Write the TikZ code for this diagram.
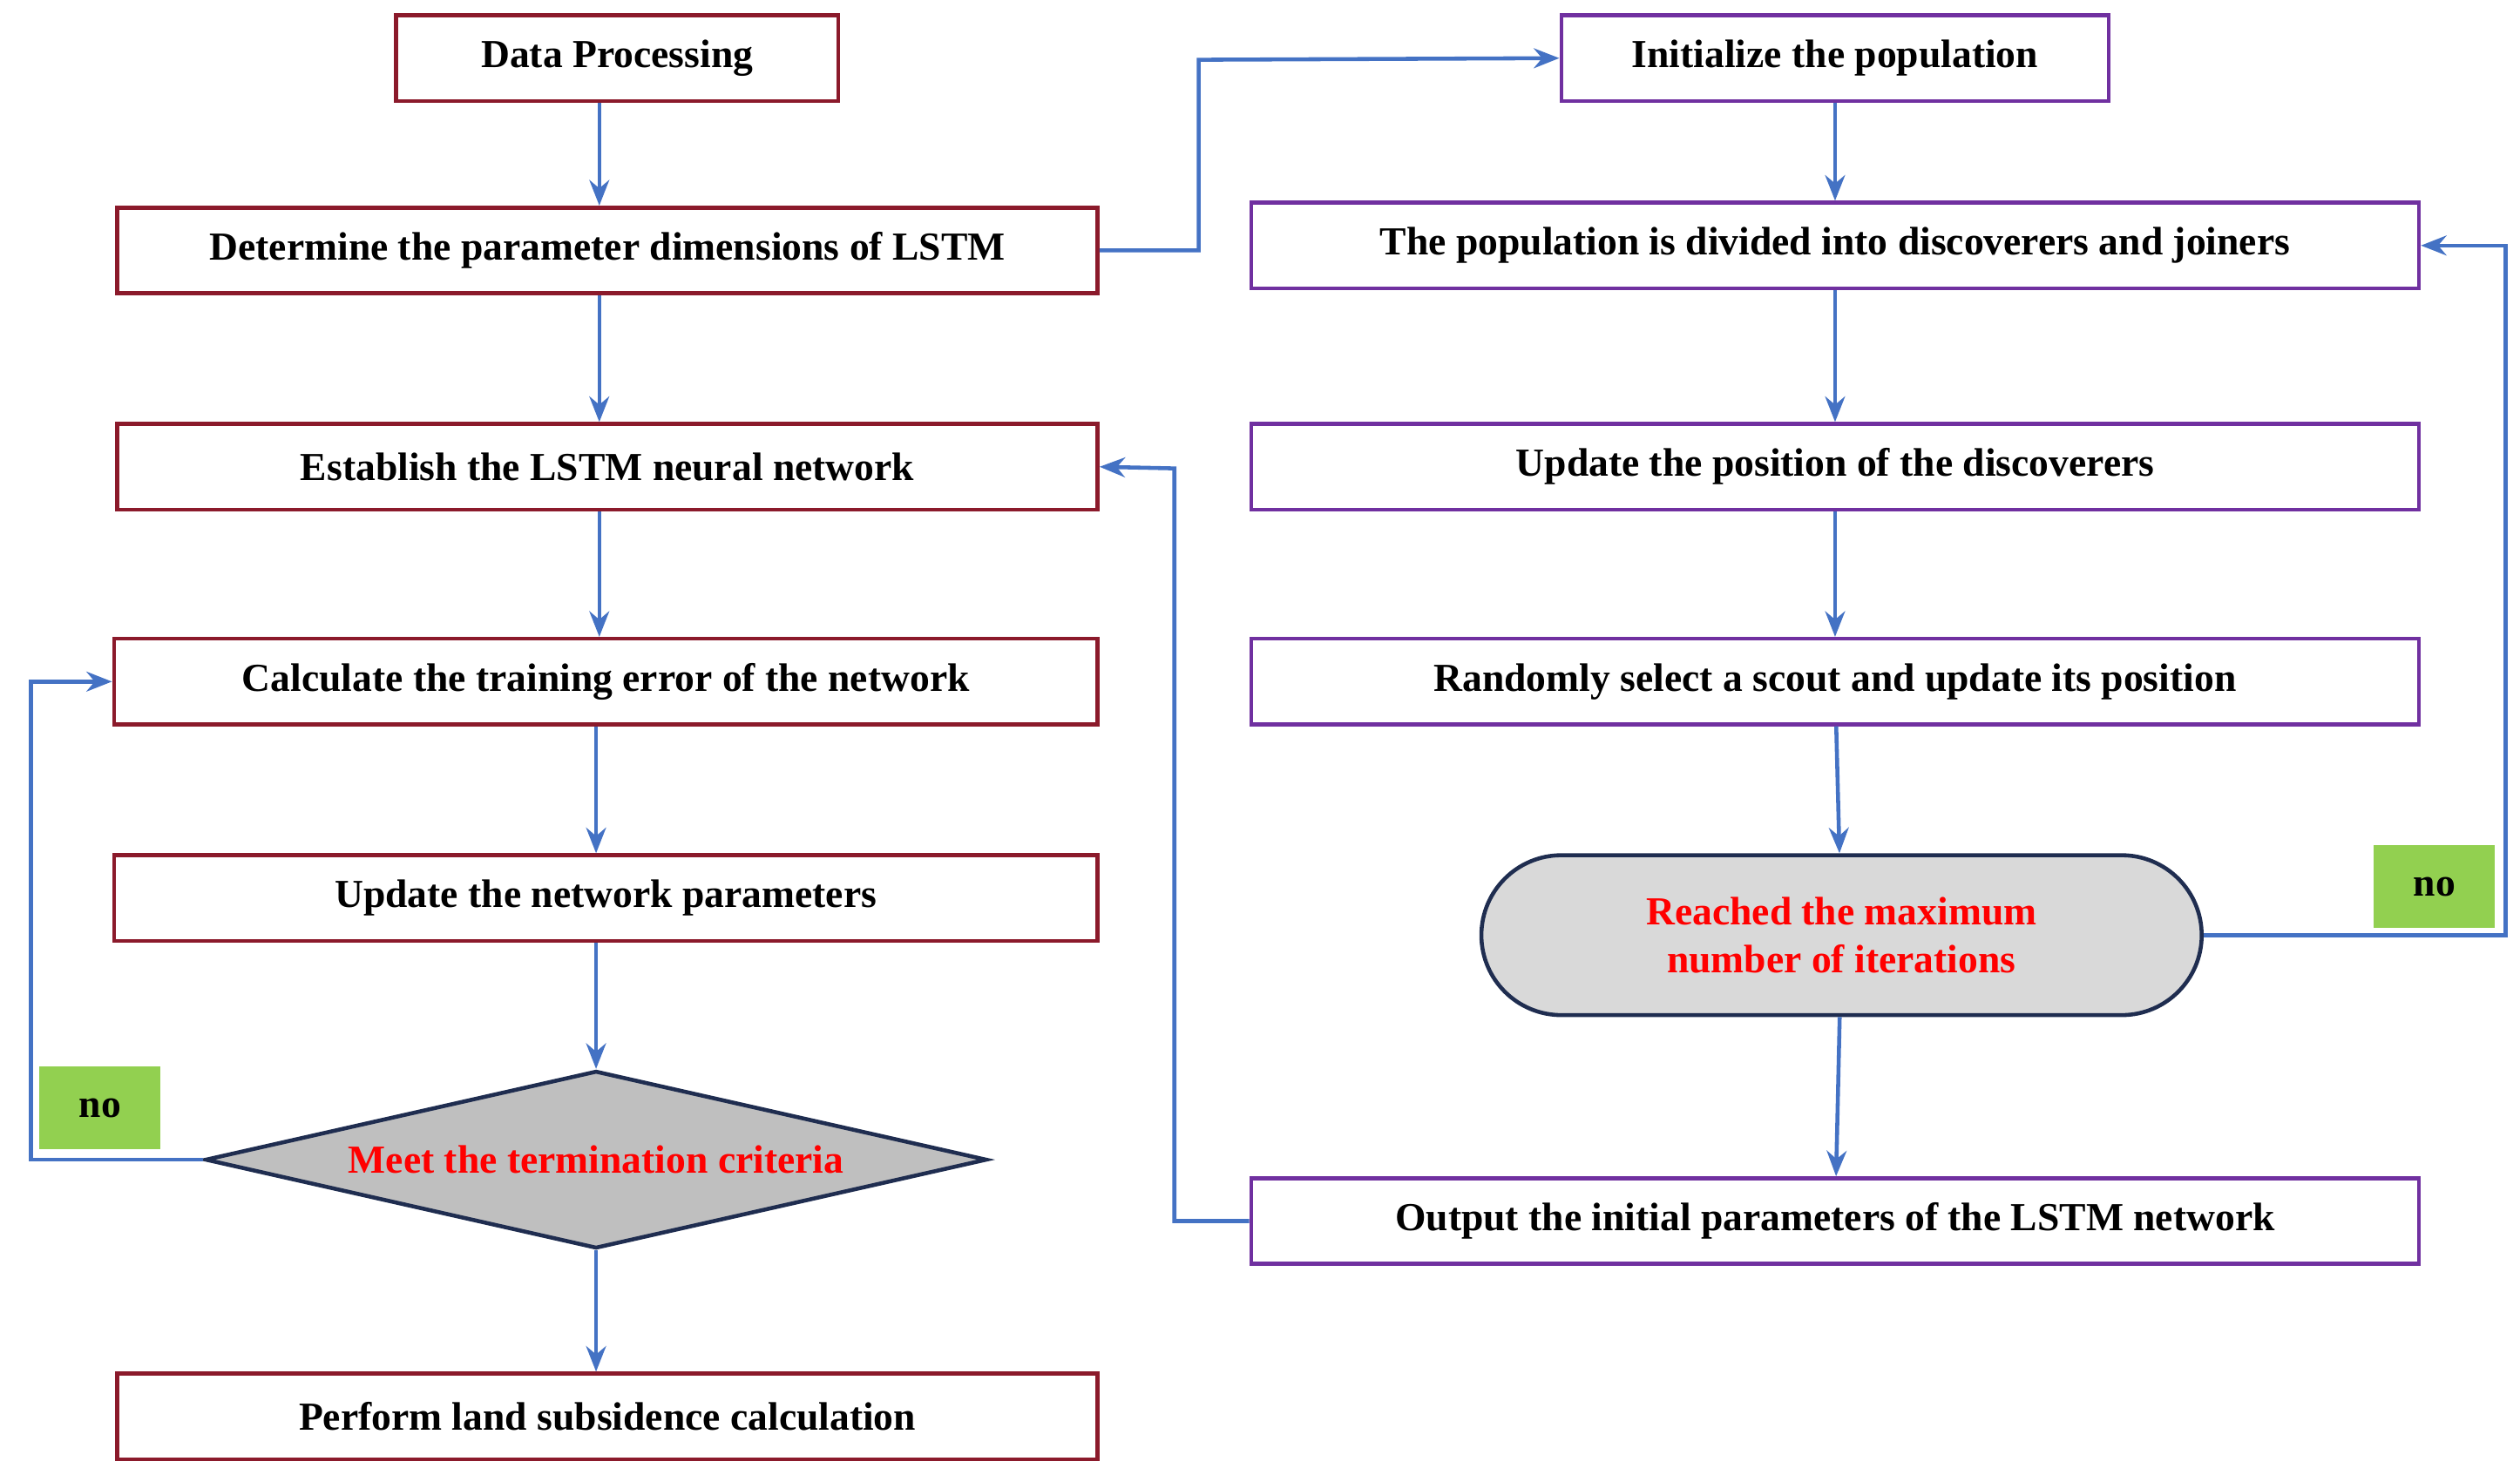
\documentclass[tikz,border=0pt]{standalone}
\usepackage{fontspec}
\setmainfont{Liberation Serif}
\usetikzlibrary{shapes.geometric,arrows.meta}
\definecolor{lred}{HTML}{8B1A2B}
\definecolor{rpur}{HTML}{7030A0}
\definecolor{arr}{HTML}{4472C4}
\definecolor{navy}{HTML}{1F2D50}
\definecolor{grn}{HTML}{92D050}
\begin{document}
\begin{tikzpicture}[x=0.02cm,y=-0.02cm,
  every node/.style={font=\fontsize{14}{17}\selectfont\bfseries, inner sep=0pt},
  lbox/.style={draw=lred, line width=1.4pt, minimum height=1.06cm},
  rbox/.style={draw=rpur, line width=1.4pt, minimum height=1.06cm},
  gl/.style={fill=grn, minimum width=1.5cm, minimum height=1.03cm},
  ar/.style={draw=arr, line width=1.4pt, -{Stealth[length=9pt,width=7pt]}}]
\useasboundingbox (0,0) rectangle (1560,913);
\node[lbox, minimum width=5.48cm] (dp) at (382,36) {Data Processing};
\node[lbox, minimum width=12.14cm] (det) at (376,155) {Determine the parameter dimensions of LSTM};
\node[lbox, minimum width=12.14cm] (est) at (376,289) {Establish the LSTM neural network};
\node[lbox, minimum width=12.18cm] (cal) at (375,422) {Calculate the training error of the network};
\node[lbox, minimum width=12.18cm] (upn) at (375,556) {Update the network parameters};
\node[diamond, draw=navy, line width=1.4pt, fill=gray!50, aspect=4.4, minimum width=9.68cm, minimum height=2.2cm, text=red] (dia) at (369,718) {Meet the termination criteria};
\node[lbox, minimum width=12.14cm] (per) at (376,877) {Perform land subsidence calculation};
\node[rbox, minimum width=6.78cm] (ini) at (1136,36) {Initialize the population};
\node[rbox, minimum width=14.46cm] (div) at (1136,152) {The population is divided into discoverers and joiners};
\node[rbox, minimum width=14.46cm] (upd) at (1136,289) {Update the position of the discoverers};
\node[rbox, minimum width=14.46cm] (ran) at (1136,422) {Randomly select a scout and update its position};
\node[draw=navy, line width=1.4pt, fill=gray!30, rounded corners=0.99cm, minimum width=8.92cm, minimum height=1.98cm, text=red, align=center] (sta) at (1140,579) {Reached the maximum\\number of iterations};
\node[rbox, minimum width=14.46cm] (out) at (1136,756) {Output the initial parameters of the LSTM network};
\node[gl] (no1) at (1507,549) {no};
\node[gl] (no2) at (62,686) {no};
\coordinate (c1) at (742,155); \coordinate (c2) at (742,37);
\coordinate (c3) at (727,756); \coordinate (c4) at (727,290);
\coordinate (c5) at (19,718); \coordinate (c6) at (19,422);
\coordinate (c7) at (1551,579); \coordinate (c8) at (1551,152);
\draw[ar] (dp.south -| 371,0) -- (det.north -| 371,0);
\draw[ar] (det.south -| 371,0) -- (est.north -| 371,0);
\draw[ar] (est.south -| 371,0) -- (cal.north -| 371,0);
\draw[ar] (cal.south -| 369,0) -- (upn.north -| 369,0);
\draw[ar] (upn.south -| 369,0) -- (dia.north);
\draw[ar] (dia.south) -- (per.north -| 369,0);
\draw[ar] (det.east) -- (c1) -- (c2) -- (ini.west);
\draw[ar] (out.west) -- (c3) -- (c4) -- (est.east);
\draw[ar] (dia.west) -- (c5) -- (c6) -- (cal.west);
\draw[ar] (sta.east) -- (c7) -- (c8) -- (div.east);
\draw[ar] (ini) -- (div);
\draw[ar] (div) -- (upd);
\draw[ar] (upd) -- (ran);
\draw[ar] (ran) -- (sta);
\draw[ar] (sta) -- (out);
\end{tikzpicture}
\end{document}
